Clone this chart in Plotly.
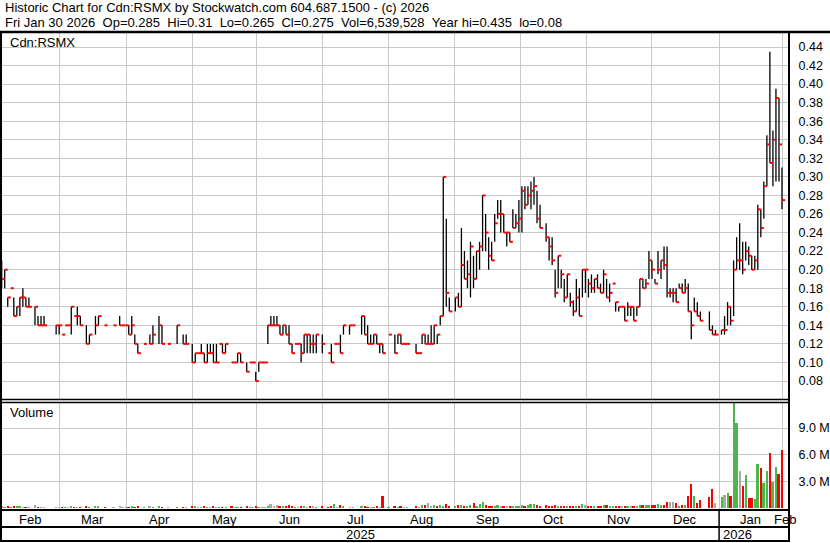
import plotly.graph_objects as go

N = None
# ---- daily bars (one slot per trading day; None = no trade) ----
high = [
    .21, .20, .17, .18, .17, .16, .17, .18, .17, .17,
    N, .16, .15, .15, .15, N, N, N, .14, .14,
    .13, .14, .14, .16, .15, .16, .15, N, .14, .13,
    N, .15, .15, N, .14, N, N, .14, N, .15,
    .14, .14, .14, .15, .13, .12, N, .12, N, .13,
    .14, N, .15, .14, N, .12, N, N, .14, N,
    .13, .13, N, .12, .11, .11, .12, .11, .12, .12,
    .12, .12, .12, .12, .12, N, .10, .10, .11, .11,
    N, .10, .10, .10, .09, .10, .10, .10, .14, .15,
    .15, .15, .14, .14, .14, .14, .12, .12, .12, .12,
    .13, .13, .13, .13, .13, N, .13, N, .11, .12,
    .12, .12, .13, .14, N, .14, .14, N, N, .15,
    .15, .14, .13, .13, .13, .12, .12, N, .13, N,
    .13, .13, .13, .12, .12, N, N, .12, .11, .13,
    .13, .13, .14, .14, .13, .15, .30, .255, .17, N,
    .17, .175, .245, .22, .21, .23, .215, .22, .23, .28,
    .26, .235, .23, .26, .275, .275, .26, .24, .24, .265,
    .26, .275, .29, .29, .29, .295, .30, .285, .27, N,
    .25, .235, .235, .20, .215, .20, .19, .195, .175, .167,
    .19, .18, .20, .20, .19, .195, .19, .195, .185, .20,
    .19, .185, .185, .165, .16, .16, .16, .165, .16, .16,
    .16, .19, .19, .19, .22, .21, .19, .22, .21, .225,
    .225, .18, .18, .18, .185, .185, .19, .185, .155, .17,
    .165, .155, N, N, .155, .14, .135, N, .135, .15,
    .165, .16, .21, .235, .25, .23, .23, .225, .215, .215,
    .27, .265, .295, .345, .435, .35, .395, .385, .31,
]
low = [
    .18, .18, .16, .18, .15, .15, .15, .16, .16, .16,
    N, .14, .14, .14, .14, N, N, N, .13, .13,
    .13, .14, .14, .13, .15, .14, .14, N, .12, .12,
    N, .13, .14, N, .14, N, N, .14, N, .14,
    .14, .14, .13, .13, .12, .11, N, .12, N, .12,
    .12, N, .12, .12, N, .12, N, N, .12, N,
    .12, .12, N, .10, .10, .11, .11, .10, .10, .11,
    .10, .10, .12, .11, .11, N, .10, .10, .10, .10,
    N, .09, .10, .10, .08, .09, .10, .10, .12, .14,
    .14, .14, .13, .13, .13, .12, .11, .12, .12, .10,
    .11, .11, .11, .11, .11, N, .11, N, .11, .10,
    .12, .12, .11, .13, N, .13, .14, N, N, .13,
    .13, .12, .12, .12, .12, .11, .11, N, .13, N,
    .11, .12, .12, .12, .12, N, N, .11, .11, .12,
    .12, .12, .12, .12, .12, .14, .15, .16, .155, N,
    .155, .16, .16, .19, .18, .17, .18, .19, .20, .22,
    .22, .20, .21, .23, .255, .24, .24, .225, .23, .245,
    .245, .24, .24, .265, .27, .265, .27, .25, .245, N,
    .23, .21, .205, .17, .18, .18, .165, .17, .16, .15,
    .155, .15, .17, .175, .17, .175, .175, .18, .175, .175,
    .17, .165, .185, .155, .155, .16, .145, .15, .15, .145,
    .15, .16, .18, .18, .19, .19, .185, .195, .19, .20,
    .17, .17, .165, .165, .18, .175, .175, .155, .125, .155,
    .15, .145, N, N, .135, .13, .13, N, .13, .13,
    .14, .14, .15, .20, .20, .195, .21, .205, .20, .20,
    .20, .235, .255, .29, .315, .29, .295, .295, .265,
]
close = [
    .19, .20, .17, .18, .15, .16, .17, .17, .16, .16,
    N, .16, .14, .14, .14, N, N, N, .14, .14,
    .13, .14, .14, .16, .15, .15, .14, N, .12, .13,
    N, .14, .15, N, .14, N, N, .14, N, .14,
    .14, .14, .13, .14, .12, .11, N, .12, N, .12,
    .13, N, .14, .12, N, .12, N, N, .14, N,
    .12, .12, N, .10, .11, .11, .11, .10, .11, .11,
    .10, .10, .12, .11, .12, N, .10, .10, .11, .10,
    N, .09, .10, .10, .08, .10, .10, .10, .14, .14,
    .14, .14, .13, .14, .13, .12, .11, .12, .12, .11,
    .13, .13, .12, .12, .13, N, .12, N, .11, .10,
    .12, .12, .11, .14, N, .14, .14, N, N, .15,
    .13, .12, .12, .13, .12, .12, .11, N, .13, N,
    .11, .13, .12, .12, .12, N, N, .11, .11, .13,
    .12, .12, .12, .14, .13, .15, .30, .175, .155, N,
    .17, .16, .205, .19, .195, .225, .19, .22, .225, .28,
    .24, .215, .21, .25, .26, .26, .24, .24, .23, .245,
    .25, .255, .285, .27, .28, .285, .29, .255, .245, N,
    .235, .225, .21, .175, .215, .195, .17, .195, .165, .155,
    .17, .15, .20, .20, .185, .18, .19, .18, .175, .195,
    .17, .175, .185, .165, .16, .16, .145, .16, .16, .145,
    .16, .19, .18, .185, .21, .20, .185, .20, .21, .205,
    .175, .175, .175, .165, .18, .175, .18, .155, .14, .155,
    .15, .145, N, N, .135, .13, .13, N, .135, .135,
    .16, .145, .20, .21, .21, .20, .22, .215, .20, .21,
    .265, .245, .29, .335, .315, .34, .385, .335, .275,
]
volume_k = [
    200, 100, 120, 100, 120, 200, 120, 100, 100, 80,
    0, 300, 100, 80, 80, 0, 0, 0, 80, 100,
    60, 100, 80, 150, 100, 80, 100, 0, 120, 100,
    0, 200, 200, 0, 100, 0, 0, 80, 0, 200,
    100, 80, 100, 200, 100, 120, 0, 100, 0, 200,
    100, 0, 120, 100, 0, 80, 0, 0, 100, 0,
    80, 100, 0, 200, 150, 100, 100, 120, 100, 80,
    120, 100, 100, 80, 100, 0, 200, 100, 100, 100,
    0, 120, 80, 80, 200, 100, 80, 100, 250, 500,
    250, 300, 150, 120, 150, 300, 200, 100, 100, 200,
    150, 100, 200, 150, 100, 0, 120, 0, 100, 150,
    450, 100, 300, 120, 0, 100, 80, 0, 0, 150,
    120, 100, 100, 100, 150, 100, 1350, 0, 100, 0,
    150, 100, 120, 100, 80, 0, 0, 150, 100, 350,
    350, 550, 200, 300, 250, 350, 250, 450, 250, 0,
    200, 300, 300, 200, 200, 300, 580, 250, 450, 700,
    350, 250, 250, 250, 300, 250, 250, 200, 150, 200,
    200, 250, 350, 250, 300, 450, 450, 300, 200, 0,
    300, 250, 200, 300, 250, 200, 250, 250, 200, 250,
    250, 200, 450, 300, 250, 200, 200, 250, 250, 350,
    300, 250, 200, 150, 200, 150, 200, 150, 200, 200,
    200, 350, 300, 300, 350, 300, 350, 450, 300, 300,
    700, 700, 650, 580, 200, 350, 300, 1300, 2700, 1300,
    600, 850, 0, 0, 1200, 2100, 600, 0, 1200, 1500,
    1650, 1400, 12000, 9600, 4200, 2500, 3700, 1100, 1100, 1000,
    4900, 4500, 2800, 4200, 6150, 2900, 4650, 3850, 6540,
]

# month boundaries (in bar slots) and labels
month_bounds = [19, 41.2, 63, 84.2, 106, 128, 149.7, 171.6, 193.5, 214.7, 237.2, 258]
month_labels = ["Feb", "Mar", "Apr", "May", "Jun", "Jul", "Aug", "Sep", "Oct", "Nov", "Dec", "Jan", "Feb"]
year_labels = ["2025", "2026"]
price_ticks = [0.08, 0.10, 0.12, 0.14, 0.16, 0.18, 0.20, 0.22, 0.24, 0.26,
               0.28, 0.30, 0.32, 0.34, 0.36, 0.38, 0.40, 0.42, 0.44]
vol_ticks = [3e6, 6e6, 9e6]
vol_ticktext = ["3.0 M", "6.0 M", "9.0 M"]

header1 = "Historic Chart for Cdn:RSMX by Stockwatch.com 604.687.1500 - (c) 2026"
header2 = ("Fri Jan 30 2026\u00a0\u00a0Op=0.285\u00a0\u00a0Hi=0.31\u00a0\u00a0Lo=0.265\u00a0\u00a0"
           "Cl=0.275\u00a0\u00a0Vol=6,539,528\u00a0\u00a0Year hi=0.435\u00a0\u00a0lo=0.08")

# ---- geometry ----
W, H = 830, 543
FONT = "Liberation Sans, Arial, sans-serif"
FS = 13
def px(x): return x / W
def py(y): return 1 - y / H

PL, PR = 1, 789          # plot area left/right (px)
slope = (782 - 1.7) / 258
x0 = -(1.7 - PL) / slope
x1 = x0 + (PR - PL) / slope

# price range (0.44 at y=47, 0.08 at y=381)
pp = (381 - 47) / 0.36
p_top, p_bot = 33, 399
pr = [0.08 - (p_bot - 381) / pp, 0.44 + (47 - p_top) / pp]
# volume range (0 at y=508, 9M at y=428)
vp = (508 - 428) / 9e6
v_top, v_bot = 403, 509
vr = [-(v_bot - 508) / vp, (508 - v_top) / vp]

# ---- traces ----
vx, vy, tx, ty = [], [], [], []
for i, (h, l, c) in enumerate(zip(high, low, close)):
    if c is None:
        continue
    vx += [i, i, None]; vy += [l, h, None]
    tx += [i, i + 1, None]; ty += [c, c, None]

bx, by, bc = [], [], []
prev = None
for i, (c, v) in enumerate(zip(close, volume_k)):
    if c is None:
        continue
    if prev is None or c == prev:
        col = "#a8a8a8"
    elif c > prev:
        col = "#4cb84c"
    else:
        col = "#ff0000"
    prev = c
    if v:
        bx.append(i); by.append(v * 1000); bc.append(col)

fig = go.Figure()
fig.add_trace(go.Scatter(x=vx, y=vy, mode="lines", line=dict(color="black", width=1.3),
                         xaxis="x", yaxis="y", hoverinfo="skip"))
fig.add_trace(go.Scatter(x=tx, y=ty, mode="lines", line=dict(color="#ff0000", width=2),
                         xaxis="x", yaxis="y", hoverinfo="skip"))
fig.add_trace(go.Bar(x=bx, y=by, width=0.66, marker=dict(color=bc, line=dict(width=0)),
                     xaxis="x2", yaxis="y2", hoverinfo="skip"))

grid = "#c8c8c8"
fig.update_layout(
    width=W, height=H, margin=dict(l=0, r=0, t=0, b=0),
    paper_bgcolor="white", plot_bgcolor="white", showlegend=False,
    font=dict(family=FONT, size=FS, color="black"),
    bargap=0,
    xaxis=dict(domain=[px(PL), px(PR)], range=[x0, x1], tickvals=month_bounds,
               showticklabels=False, showgrid=True, gridcolor=grid, gridwidth=1,
               zeroline=False, showline=False, anchor="y"),
    xaxis2=dict(domain=[px(PL), px(PR)], range=[x0, x1], tickvals=month_bounds,
                showticklabels=False, showgrid=True, gridcolor=grid, gridwidth=1,
                zeroline=False, showline=False, anchor="y2", matches="x"),
    yaxis=dict(domain=[py(p_bot), py(p_top)], range=pr, side="right", anchor="x",
               tickvals=price_ticks, ticktext=[f"{v:.2f}" for v in price_ticks],
               showgrid=True, gridcolor=grid, gridwidth=1, zeroline=False,
               ticks="outside", ticklen=6, tickcolor="rgba(0,0,0,0)",
               tickfont=dict(family=FONT, size=12.5, color="black")),
    yaxis2=dict(domain=[py(v_bot), py(v_top)], range=vr, side="right", anchor="x2",
                tickvals=vol_ticks, ticktext=vol_ticktext,
                showgrid=True, gridcolor=grid, gridwidth=1, zeroline=False,
                ticks="outside", ticklen=6, tickcolor="rgba(0,0,0,0)",
                tickfont=dict(family=FONT, size=12.5, color="black")),
)

ann = [
    dict(x=px(3), y=py(8), text=header1, font=dict(size=FS)),
    dict(x=px(3), y=py(22), text=header2, font=dict(size=FS)),
    dict(x=px(8), y=py(42), text="Cdn:RSMX", font=dict(size=FS)),
    dict(x=px(8), y=py(413), text="Volume", font=dict(size=FS)),
]
for a in ann:
    a.update(xref="paper", yref="paper", xanchor="left", yanchor="middle", showarrow=False)

bounds = [0] + month_bounds
mids = [(bounds[k] + bounds[k + 1]) / 2 for k in range(len(bounds) - 1)] + [month_bounds[-1] + 1]
for m, lab in zip(mids, month_labels):
    ann.append(dict(x=m, y=py(519), xref="x", yref="paper", text=lab, showarrow=False,
                    xanchor="center", yanchor="middle", font=dict(size=FS)))
year_sep_x = PL + (month_bounds[10] - x0) * slope
ann.append(dict(x=px((PL + year_sep_x) / 2), y=py(534.5), xref="paper", yref="paper",
                text=year_labels[0], showarrow=False, yanchor="middle", font=dict(size=FS)))
ann.append(dict(x=px((year_sep_x + PR) / 2), y=py(534.5), xref="paper", yref="paper",
                text=year_labels[1], showarrow=False, yanchor="middle", font=dict(size=FS)))
fig.update_layout(annotations=ann)

def hline(y, xa, xb, w):
    return dict(type="line", xref="paper", yref="paper", x0=px(xa), x1=px(xb),
                y0=py(y), y1=py(y), line=dict(color="black", width=w), layer="above")
def vline(x, ya, yb, w):
    return dict(type="line", xref="paper", yref="paper", x0=px(x), x1=px(x),
                y0=py(ya), y1=py(yb), line=dict(color="black", width=w), layer="above")

shapes = [
    hline(32, 0, W, 2.5),
    vline(1, 32, 542, 2),
    vline(PR, 32, 542, 2),
    hline(399.5, 0, PR, 1.5),
    hline(402.5, 0, PR, 1.5),
    hline(510, 0, PR, 2),
    hline(527, 0, PR, 2),
    hline(541, 0, PR, 2),
    vline(year_sep_x, 510, 541, 1.5),
]
fig.update_layout(shapes=shapes)

fig.write_html("out.html", config={"displayModeBar": False},
               post_script="document.body.style.margin='0px';document.body.style.overflow='hidden';")
